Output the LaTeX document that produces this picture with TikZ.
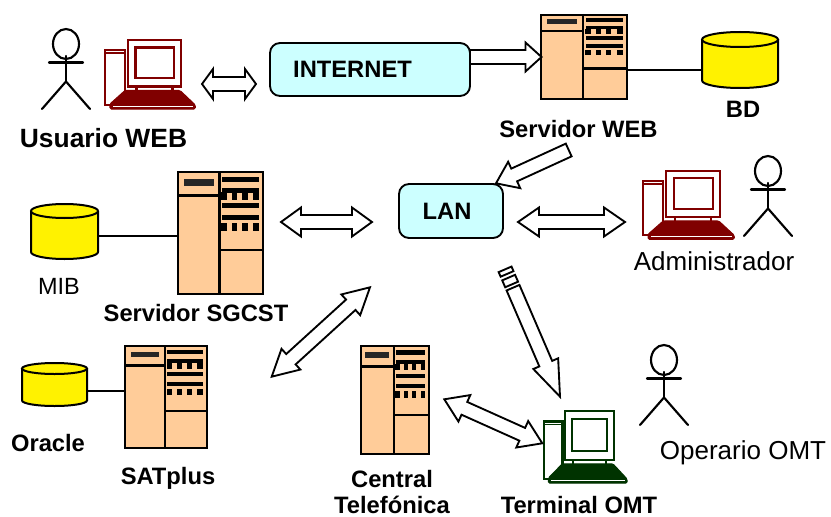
\documentclass[tikz,border=0pt]{standalone}
\usepackage{fontspec}
\setmainfont{Liberation Sans}
\usetikzlibrary{calc,shapes.geometric}

\definecolor{carne}{HTML}{FFCC99}
\definecolor{celeste}{HTML}{CCFFFF}
\definecolor{granate}{HTML}{800000}
\definecolor{verdeosc}{HTML}{003300}

% point at distance #3 along (#1)-(#2), then #4 off the axis (both in px)
\newcommand{\pto}[4]{($($(#1)!#3*.75pt!(#2)$)!#4*.75pt!90:(#2)$)}

\tikzset{
    flecha/.style={draw=black, fill=white, line width=1.4pt},
    flechauna/.style 2 args={flecha, to path={
        \pto{\tikztostart}{\tikztotarget}{0}{7} -- \pto{\tikztotarget}{\tikztostart}{#1}{-7}
        -- \pto{\tikztotarget}{\tikztostart}{#1}{-#2} -- (\tikztotarget)
        -- \pto{\tikztotarget}{\tikztostart}{#1}{#2} -- \pto{\tikztotarget}{\tikztostart}{#1}{7}
        -- \pto{\tikztostart}{\tikztotarget}{0}{-7} -- cycle}},
    flechados/.style 2 args={flecha, to path={
        (\tikztostart) -- \pto{\tikztostart}{\tikztotarget}{#1}{#2} -- \pto{\tikztostart}{\tikztotarget}{#1}{7}
        -- \pto{\tikztotarget}{\tikztostart}{#1}{-7} -- \pto{\tikztotarget}{\tikztostart}{#1}{-#2}
        -- (\tikztotarget) -- \pto{\tikztotarget}{\tikztostart}{#1}{#2} -- \pto{\tikztotarget}{\tikztostart}{#1}{7}
        -- \pto{\tikztostart}{\tikztotarget}{#1}{-7} -- \pto{\tikztostart}{\tikztotarget}{#1}{-#2} -- cycle}},
    nube/.style={draw=black, fill=celeste, line width=1.4pt, rounded corners=7.5pt, inner sep=0pt},
    servidor/.style={draw=black, fill=carne, line width=1.7pt, inner sep=0pt, anchor=north west},
    cabeza/.style={draw=black, ellipse, line width=1.6pt, minimum width=19.5pt, minimum height=22.5pt, inner sep=0pt},
    base/.style={inner sep=0pt, anchor=north west},
    linea/.style={draw=black, line width=1.1pt},
    texto/.style={anchor=base, inner sep=0pt, font=\fontsize{17.6}{20}\selectfont},
    negrita/.style={anchor=base, inner sep=0pt, font=\fontsize{17.8}{20}\selectfont\bfseries},
}

\begin{document}
\begin{tikzpicture}[x=.75pt, y=-.75pt]
    \useasboundingbox (0,0) rectangle (831,517);

    % clouds
    \node[nube, minimum width=150pt, minimum height=39.75pt] (internet) at (370,69.5) {};
    \node[nube, minimum width=78pt, minimum height=40.5pt] (lan) at (451,211) {};

    % servers
    \foreach \nombre/\xa/\ya/\xb/\yb in {web/540/14/626/98, sgcst/177/171/262/293, satplus/124/345/206/447, central/360/345/428/453} {
        \pgfmathsetmacro\ancho{(\xb-\xa)*.75}
        \pgfmathsetmacro\alto{(\yb-\ya)*.75}
        \begin{scope}[shift={(\xa,\ya)}, x=\ancho pt, y=-\alto pt]
        \node[servidor, minimum width=\ancho pt, minimum height=\alto pt] (\nombre) at (0,0) {};
        \draw[line width=1.7pt] (.5,0) -- (.5,1) (0,.2) -- (.5,.2) (.5,.65) -- (1,.65);
        \fill[black!85] (.08,.065) rectangle (.43,.122);
        \foreach \va/\vb in {.05/.09, .14/.18, .265/.305, .36/.4}
            \fill (.53,\va) rectangle (.96,\vb);
        \foreach \ua/\ub in {.52/.59, .647/.706, .77/.83, .894/.96} {
            \fill (\ua,.175) rectangle (\ub,.235);
            \fill (\ua,.43) rectangle (\ub,.49);
        }
        \end{scope}
    }

    % databases
    \foreach \nombre/\xa/\ya/\an/\al/\ry in {bd/702/32/76/56/7.5, mib/31/204/67/55/7, oracle/22/363/65/43/5.5} {
        \pgfmathsetmacro\rx{\an*.375}
        \pgfmathsetmacro\rr{\ry*.75}
        \begin{scope}[shift={(\xa,\ya)}, line width=1.5pt]
        \node[base, minimum width=\an*.75pt, minimum height=\al*.75pt] (\nombre) at (0,0) {};
        \draw[fill=yellow] (0,\ry) -- (0,\al-\ry) arc[start angle=180, end angle=360, x radius=\rx pt, y radius=\rr pt] -- (\an,\ry);
        \draw[fill=yellow] (\an/2,\ry) ellipse[x radius=\rx pt, y radius=\rr pt];
        \end{scope}
    }
    \coordinate (bdsal) at (702,70);
    \coordinate (mibsal) at (98,236);
    \coordinate (oraclesal) at (87,391);
    \draw[linea] (web.east |- bdsal) -- (bdsal);
    \draw[linea] (mibsal) -- (sgcst.west |- mibsal);
    \draw[linea] (oraclesal) -- (satplus.west |- oraclesal);

    % computers
    \foreach \nombre/\xa/\ya/\ex/\ey/\col in {pcusuario/104/39/1/1/granate, pcadmin/642/170/1.01/.99/granate, pcomt/543/410/.92/1.045/verdeosc} {
        \begin{scope}[shift={(\xa,\ya)}, x=\ex*.75pt, y=-\ey*.75pt, draw=\col, line width=1.6pt]
        \node[draw=\col, line width=1.6pt, inner sep=0pt, anchor=north west, minimum width=\ex*15pt, minimum height=\ey*41.25pt] (\nombre) at (0,10) {};
        \draw[line width=1.2pt] (0,14) -- (20,14);
        \draw (32.5,47) -- (32.5,52) (68.5,47) -- (68.5,52);
        \draw (24,1) rectangle (77,47.5);
        \draw (31.5,8.5) rectangle (70,39);
        \draw[fill=\col, rounded corners=1pt, line width=.8pt] (21,51.5) -- (76,51.5) -- (91.3,66) -- (91.3,70) -- (6,70) -- (6,65) -- cycle;
        \draw[white, line width=.4pt] (9,67) -- (89,67);
        \end{scope}
    }

    % actors
    \foreach \nombre/\xa/\ya in {usuario/66/44, admin/768/171, operario/664/360} {
        \begin{scope}[shift={(\xa,\ya)}, line width=1.6pt, line cap=round]
        \node[cabeza] (\nombre) at (0,0) {};
        \coordinate (\nombre cad) at (0,37.5);
        \draw (0,12) -- (\nombre cad);
        \draw (-17,18.5) -- (17,18.5);
        \draw (-24,65) -- (\nombre cad) -- (24,65);
        \end{scope}
    }

    % block arrows
    \coordinate (usuarioizq) at (202,84);
    \coordinate (usuarioder) at (256,84);
    \coordinate (internetsal) at (470,57);
    \coordinate (weblleg) at (541.5,57);
    \coordinate (websal) at (568.7,150);
    \coordinate (lanlleg) at (496,183.3);
    \coordinate (sgcstder) at (281,222);
    \coordinate (lanizq) at (372,222);
    \coordinate (lander) at (518,222);
    \coordinate (adminizq) at (625,222);
    \coordinate (satder) at (271.7,376.7);
    \coordinate (redabajo) at (370,287.3);
    \coordinate (centralder) at (444.3,399.3);
    \coordinate (omtizq) at (542.3,443.3);
    \coordinate (lansal) at (513,287.7);
    \coordinate (omtlleg) at (560,396.7);

    \draw[flechados={11}{15}] (usuarioizq) to (usuarioder);
    \draw[flechauna={16}{14.5}] (internetsal) to (weblleg);
    \draw[flechauna={20}{14.5}] (websal) to (lanlleg);
    \draw[flechados={20}{14.5}] (sgcstder) to (lanizq);
    \draw[flechados={21}{14.5}] (lander) to (adminizq);
    \draw[flechados={26}{14}] (satder) to (redabajo);
    \draw[flechados={22}{14.5}] (centralder) to (omtizq);
    \draw[flechauna={36}{13.5}] (lansal) to (omtlleg);
    \foreach \da/\db in {3.5/11, 15/20}
        \draw[flecha] \pto{lansal}{omtlleg}{-\da}{7} -- \pto{lansal}{omtlleg}{-\db}{7} -- \pto{lansal}{omtlleg}{-\db}{-7} -- \pto{lansal}{omtlleg}{-\da}{-7} -- cycle;

    % labels
    \node[negrita, font=\fontsize{19.8}{20}\selectfont\bfseries] (lblusuario) at (103.5,147) {Usuario WEB};
    \node[negrita] (lblinternet) at (352.5,78) {INTERNET};
    \node[negrita] (lblweb) at (578.5,137) {Servidor WEB};
    \node[negrita] (lblbd) at (743,117) {BD};
    \node[negrita] (lbllan) at (447,219) {LAN};
    \node[texto, font=\fontsize{19.5}{20}\selectfont] (lbladmin) at (714,270) {Administrador};
    \node[texto] (lblmib) at (59,294) {MIB};
    \node[negrita] (lblsgcst) at (196,321) {Servidor SGCST};
    \node[negrita] (lbloracle) at (48,451) {Oracle};
    \node[negrita] (lblsat) at (168,484) {SATplus};
    \node[negrita] (lblcentral) at (392,487) {Central};
    \node[negrita] (lbltelef) at (392,513) {Telefónica};
    \node[negrita] (lblomt) at (579,513) {Terminal OMT};
    \node[texto, font=\fontsize{19.5}{20}\selectfont] (lbloperario) at (743,459) {Operario OMT};
\end{tikzpicture}
\end{document}
